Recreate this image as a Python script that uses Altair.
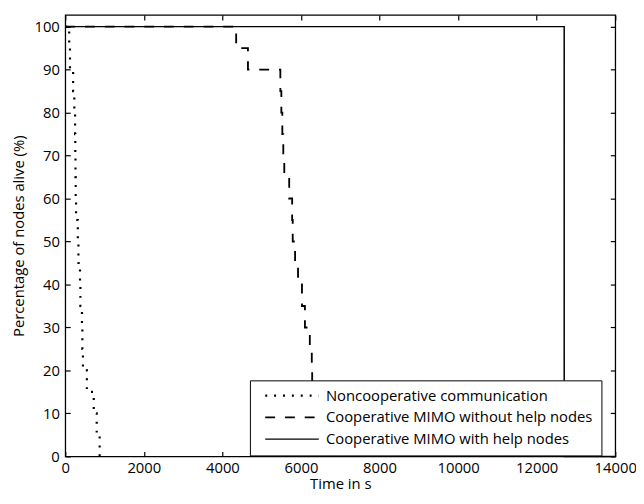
import altair as alt
import pandas as pd

# Series names (legend order)
series_names = [
    "Noncooperative communication",
    "Cooperative MIMO without help nodes",
    "Cooperative MIMO with help nodes",
]

# Noncooperative communication (step function, time in s, % alive)
nonc_t = [0, 100, 120, 200, 230, 250, 255, 260, 265, 275, 320, 335, 375, 385, 425, 435, 450, 550, 725, 800, 875]
nonc_v = [100, 95, 90, 85, 80, 75, 70, 65, 60, 55, 50, 45, 40, 35, 30, 25, 20, 15, 10, 5, 0]

# Cooperative MIMO without help nodes
dash_t = [0, 4350, 4650, 5475, 5500, 5525, 5550, 5575, 5700, 5775, 5790, 5850, 5925, 6025, 6100, 6225, 6275, 6285, 6290, 6295, 6300]
dash_v = [100, 95, 90, 85, 80, 75, 70, 65, 60, 55, 50, 45, 40, 35, 30, 25, 20, 15, 10, 5, 0]

# Cooperative MIMO with help nodes
solid_t = [0, 12700, 14000]
solid_v = [100, 0, 0]

x_ticks = [0, 2000, 4000, 6000, 8000, 10000, 12000, 14000]
y_ticks = [0, 10, 20, 30, 40, 50, 60, 70, 80, 90, 100]

rows = []
for name, ts, vs in zip(series_names, [nonc_t, dash_t, solid_t], [nonc_v, dash_v, solid_v]):
    for t, v in zip(ts, vs):
        rows.append({"series": name, "t": t, "v": v})
df = pd.DataFrame(rows)

FONT = "Open Sans"
xscale = alt.Scale(domain=[0, 14000], nice=False, zero=False)
yscale = alt.Scale(domain=[0, 102.7], nice=False, zero=False)

lines = alt.Chart(df).mark_line(
    interpolate="step-after", color="black"
).encode(
    x=alt.X("t:Q", scale=xscale, title="Time in s",
            axis=alt.Axis(orient="bottom", values=x_ticks, format="d", domain=False, grid=False,
                          tickSize=5, offset=-5, tickColor="black", tickWidth=1.2,
                          labelPadding=4, titlePadding=2, labelFont=FONT, titleFont=FONT,
                          labelFontSize=15, titleFontSize=15, titleFontWeight="normal",
                          labelColor="black", titleColor="black", labelFlush=False)),
    y=alt.Y("v:Q", scale=yscale, title="Percentage of nodes alive (%)",
            axis=alt.Axis(orient="left", values=y_ticks, format="d", domain=False, grid=False,
                          tickSize=5, offset=-5, tickColor="black", tickWidth=1.2,
                          labelPadding=6, titlePadding=8, labelFont=FONT, titleFont=FONT,
                          labelFontSize=15, titleFontSize=15, titleFontWeight="normal",
                          labelColor="black", titleColor="black", labelFlush=False)),
    strokeDash=alt.StrokeDash(
        "series:N",
        scale=alt.Scale(domain=series_names, range=[[2, 7], [10, 10], [1, 0]]),
        legend=alt.Legend(
            title=None, orient="none", legendX=187, legendY=370,
            fillColor="white", strokeColor="black", padding=8,
            symbolType="M0,0H16", symbolSize=46, symbolStrokeWidth=1.5,
            symbolStrokeColor="black", labelOffset=54, labelFont=FONT,
            labelFontSize=15, labelColor="black", rowPadding=6, labelLimit=400,
        ),
    ),
    strokeWidth=alt.StrokeWidth(
        "series:N",
        scale=alt.Scale(domain=series_names, range=[2.2, 1.5, 1.5]),
        legend=None,
    ),
    order=alt.Order("t:Q"),
)

frame = alt.Chart(df).mark_line(opacity=0).encode(
    x=alt.X("t:Q", scale=xscale, title=None,
            axis=alt.Axis(orient="top", values=x_ticks, labels=False, domain=False, grid=False,
                          tickSize=5, offset=-5, tickColor="black", tickWidth=1.2)),
    y=alt.Y("v:Q", scale=yscale, title=None,
            axis=alt.Axis(orient="right", values=y_ticks, labels=False, domain=False, grid=False,
                          tickSize=5, offset=-5, tickColor="black", tickWidth=1.2)),
)

chart = alt.layer(lines, frame).resolve_axis(x="independent", y="independent").properties(
    width=557, height=447,
    autosize=alt.AutoSizeParams(type="none"),
    padding={"left": 58, "top": 4, "right": 21, "bottom": 37},
    background="white",
).configure_view(stroke="black", strokeWidth=1.3)

chart.save("out.html", embed_options={"renderer": "svg", "actions": False})
